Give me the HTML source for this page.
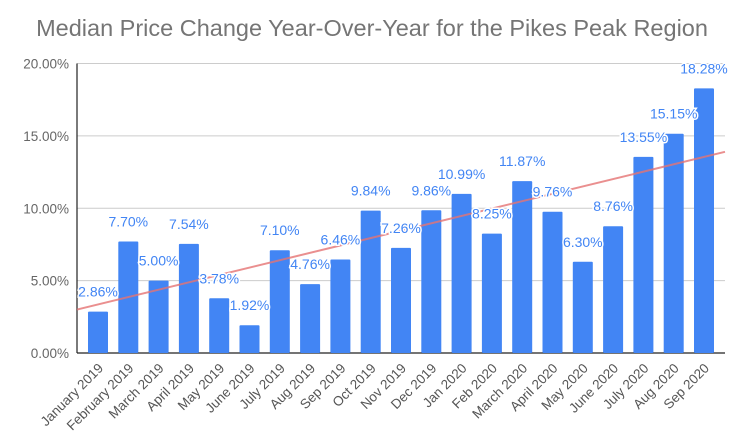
<!DOCTYPE html>
<html><head><meta charset="utf-8"><style>
html,body{margin:0;padding:0;background:#fff;}
svg{display:block;font-family:"Liberation Sans",Roboto,sans-serif;}
</style></head><body>
<svg id="c" width="739" height="447">
<text x="372" y="36" text-anchor="middle" font-size="23.5" fill="#757575">Median Price Change Year-Over-Year for the Pikes Peak Region</text>
<g id="grid"></g><g id="bars"></g><g id="trend"></g><g id="labels"></g><g id="xl"></g>
</svg>
<script>
const categories=["January 2019","February 2019","March 2019","April 2019","May 2019","June 2019","July 2019","Aug 2019","Sep 2019","Oct 2019","Nov 2019","Dec 2019","Jan 2020","Feb 2020","March 2020","April 2020","May 2020","June 2020","July 2020","Aug 2020","Sep 2020"];
const values=[2.86,7.70,5.00,7.54,3.78,1.92,7.10,4.76,6.46,9.84,7.26,9.86,10.99,8.25,11.87,9.76,6.30,8.76,13.55,15.15,18.28];
const yTicks=[0,5,10,15,20];
const trendStart=3.0,trendEnd=13.9;
const NS="http://www.w3.org/2000/svg";
const x0=77,x1=725,y0=353,yTop=63.5;
function ys(v){return y0-(v/20)*(y0-yTop);}
function xc(i){return 98+i*30.3;}
function mk(t,a,p){const e=document.createElementNS(NS,t);for(const k in a)e.setAttribute(k,a[k]);p.appendChild(e);return e;}
const grid=document.getElementById('grid');
yTicks.forEach(t=>{
 if(t>0){const l=mk('line',{x1:x0,x2:x1,y1:ys(t),y2:ys(t),stroke:'#ccc','stroke-width':1},grid);
 
 }
 const tx=mk('text',{x:69,y:ys(t)+5,'text-anchor':'end','font-size':13.5,fill:'#666'},grid);
 tx.textContent=t.toFixed(2)+'%';
 
 
});
const bars=document.getElementById('bars'),labels=document.getElementById('labels'),xl=document.getElementById('xl');
values.forEach((v,i)=>{
 const r=mk('rect',{x:xc(i)-10,y:ys(v),width:20,height:y0-ys(v),fill:'#4285f4',rx:1},bars);
 
 
 const t=mk('text',{x:xc(i),y:ys(v)-15,'text-anchor':'middle','font-size':14,fill:'#4285f4',stroke:'#fff','stroke-width':3,'paint-order':'stroke'},labels);
 t.textContent=v.toFixed(2)+'%';
 
 
 const c=mk('text',{x:xc(i)+6,y:y0+16,'text-anchor':'end','font-size':13.5,fill:'#555',transform:`rotate(-45 ${xc(i)+6} ${y0+16})`},xl);
 c.textContent=categories[i];
 
 
});
const tl=mk('line',{x1:x0,y1:ys(trendStart),x2:x1,y2:ys(trendEnd),stroke:'#e57373','stroke-opacity':0.8,'stroke-width':2},document.getElementById('trend'));


const ax=mk('line',{x1:x0,x2:x0,y1:yTop,y2:y0,stroke:'#222','stroke-width':1.2},grid);


const bx=mk('line',{x1:x0,x2:x1,y1:y0,y2:y0,stroke:'#222','stroke-width':1.2},grid);


</script>
</body></html>
